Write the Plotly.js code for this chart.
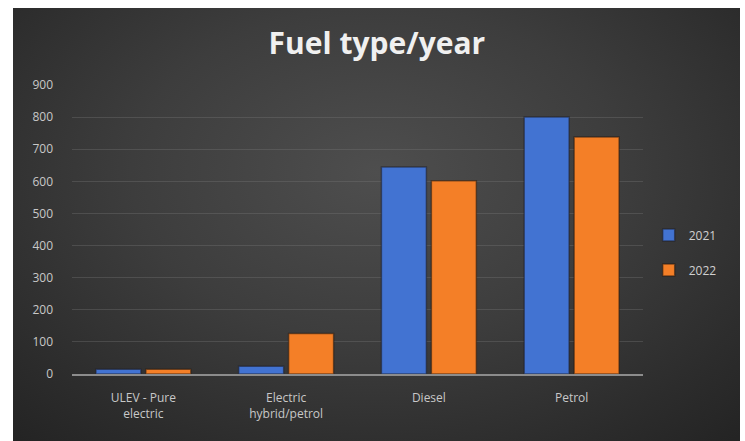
<!DOCTYPE html>
<html>
<head>
<meta charset="utf-8">
<script src="https://cdn.plot.ly/plotly-3.0.1.min.js"></script>
<style>
  html, body { margin: 0; padding: 0; background: #ffffff; width: 745px; height: 441px; overflow: hidden; }
  #bg { position: absolute; left: 13px; top: 8px; width: 727px; height: 433px;
        background: radial-gradient(ellipse 75% 85% at 50% 38%, #4e4e4e 0%, #3d3d3d 45%, #2c2c2c 80%, #232323 100%); }
  #chart { position: absolute; left: 0; top: 0; width: 745px; height: 441px; }
</style>
</head>
<body>
<div id="bg"></div>
<div id="chart"></div>
<script>
const categories = ["ULEV - Pure<br>electric", "Electric<br>hybrid/petrol", "Diesel", "Petrol"];
const seriesNames = ["2021", "2022"];
const values2021 = [15, 24, 645, 800];
const values2022 = [15, 126, 602, 738];
const yTicks = [0, 100, 200, 300, 400, 500, 600, 700, 800, 900];

const traces = [
  {
    type: "bar", name: seriesNames[0], x: categories, y: values2021,
    legendgroup: "a",
    marker: { color: "#4273d2", line: { color: "rgba(30,30,40,0.55)", width: 1.5 } },
    hoverinfo: "skip"
  },
  {
    type: "bar", name: seriesNames[1], x: categories, y: values2022,
    legendgroup: "b",
    marker: { color: "#f47f27", line: { color: "rgba(40,25,15,0.55)", width: 1.5 } },
    hoverinfo: "skip"
  }
];

const layout = {
  width: 745, height: 441,
  paper_bgcolor: "rgba(0,0,0,0)",
  plot_bgcolor: "rgba(0,0,0,0)",
  margin: { l: 72, r: 102, t: 85, b: 67, pad: 0 },
  font: { family: "Open Sans, sans-serif", color: "#c8c8c8", size: 12 },
  title: {
    text: "<b>Fuel type/year</b>",
    font: { family: "Open Sans, sans-serif", size: 30, color: "#f0f0f0" },
    x: 0.534, xanchor: "center", xref: "paper",
    y: 0.902, yanchor: "middle", yref: "container"
  },
  barmode: "group",
  bargap: 0.3,
  bargroupgap: 0.1,
  xaxis: {
    type: "category",
    showgrid: false,
    showline: true, linecolor: "#8c8c8c", linewidth: 2,
    ticks: "", ticklabelstandoff: 12,
    tickfont: { size: 12, color: "#c8c8c8" },
    zeroline: false
  },
  yaxis: {
    range: [0, 900],
    tickvals: yTicks,
    ticktext: yTicks.map(String),
    showgrid: true, gridcolor: "rgba(120,120,120,0.35)", gridwidth: 1,
    showline: false, zeroline: false,
    ticks: "", ticklabelstandoff: 18,
    tickfont: { size: 12, color: "#c8c8c8" }
  },
  legend: {
    x: 1.01, xanchor: "left",
    y: 0.42, yanchor: "middle",
    traceorder: "grouped", tracegroupgap: 16,
    font: { size: 12, color: "#d0d0d0" },
    bgcolor: "rgba(0,0,0,0)"
  },
  showlegend: true
};

Plotly.newPlot("chart", traces, layout, { displayModeBar: false, staticPlot: true });
</script>
</body>
</html>
